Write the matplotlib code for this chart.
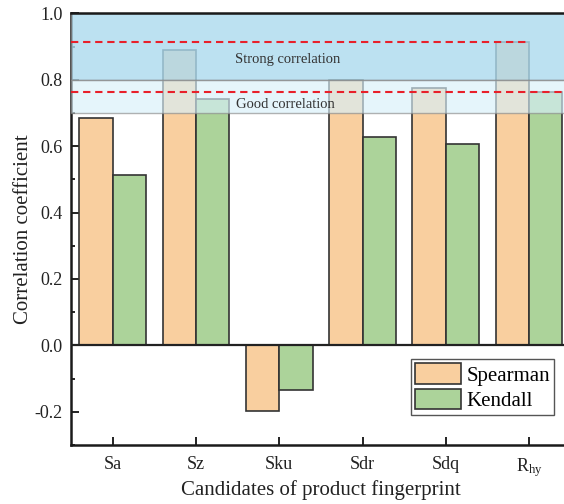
import matplotlib
matplotlib.use("Agg")
import matplotlib.pyplot as plt
import numpy as np
from matplotlib.ticker import MultipleLocator

plt.rcParams['font.family'] = ['Liberation Serif', 'DejaVu Serif']
plt.rcParams['mathtext.fontset'] = 'custom'
plt.rcParams['mathtext.rm'] = 'Liberation Serif'
plt.rcParams['mathtext.it'] = 'Liberation Serif:italic'
plt.rcParams['axes.unicode_minus'] = False

# Données : coefficients de corrélation par candidat
candidats = ['Sa', 'Sz', 'Sku', 'Sdr', 'Sdq', r'R$_{\mathrm{hy}}$']
spearman = [0.685, 0.890, -0.198, 0.800, 0.775, 0.915]
kendall = [0.512, 0.741, -0.133, 0.627, 0.607, 0.764]

x = np.arange(len(candidats))
largeur = 0.4

fig = plt.figure(figsize=(5.64, 5.04), dpi=100)
ax = fig.add_axes([0.1259, 0.1171, 0.886, 0.8565])

# Barres
ax.bar(x - largeur / 2, spearman, largeur, color='#f9cf9f', edgecolor='#333333',
       linewidth=1.2, label='Spearman', zorder=2)
ax.bar(x + largeur / 2, kendall, largeur, color='#acd39a', edgecolor='#333333',
       linewidth=1.2, label='Kendall', zorder=2)

ax.axhline(0, color='#222222', linewidth=1.6, zorder=2.6)

# Zones de corrélation (par-dessus les barres, semi-transparentes)
ax.axhspan(0.8, 1.0, facecolor=(172/255, 218/255, 238/255), alpha=0.8,
           edgecolor='#7a7a7a', linewidth=1.0, zorder=3)
ax.axhspan(0.7, 0.8, facecolor=(215/255, 240/255, 250/255), alpha=0.65,
           edgecolor='#8a8a8a', linewidth=1.0, zorder=3)

ax.text(2.1, 0.86, 'Strong correlation', fontsize=10.5, color='#333333',
        ha='center', va='center', zorder=4)
ax.text(2.07, 0.726, 'Good correlation', fontsize=10.5, color='#333333',
        ha='center', va='center', zorder=4)

# Lignes de référence : maximum de chaque coefficient
ax.plot([-0.5, x[-1]], [max(spearman)] * 2, color='#e8202a', linestyle='--',
        dashes=(3.5, 2.3), linewidth=1.5, zorder=5)
ax.plot([-0.5, x[-1] + 1], [max(kendall)] * 2, color='#e8202a', linestyle='--',
        dashes=(3.5, 2.3), linewidth=1.5, zorder=5)

ax.set_xlim(-0.5, 5.5)
ax.set_ylim(-0.3, 1.0)

ax.set_xticks(x)
ax.set_xticklabels(candidats)
ax.yaxis.set_major_locator(MultipleLocator(0.2))
ax.yaxis.set_minor_locator(MultipleLocator(0.1))
ax.set_yticks(np.arange(-0.2, 1.01, 0.2))
ax.set_yticklabels([f'{v:.1f}' for v in np.arange(-0.2, 1.01, 0.2)])

ax.tick_params(axis='both', which='major', direction='in', length=5.5, width=1.4,
               labelsize=13, colors='#222222')
ax.tick_params(axis='y', which='minor', direction='in', length=3, width=1.2)
ax.tick_params(axis='y', pad=6)
ax.tick_params(axis='x', pad=8)

for cote in ['left', 'bottom', 'top']:
    ax.spines[cote].set_linewidth(1.8)
    ax.spines[cote].set_color('#1a1a1a')
ax.spines['top'].set_zorder(6)
ax.spines['right'].set_visible(False)

ax.set_xlabel('Candidates of product fingerprint', fontsize=15, color='#222222',
              labelpad=1)
ax.set_ylabel('Correlation coefficient', fontsize=15, color='#222222', labelpad=1)

leg = ax.legend(loc='upper right', bbox_to_anchor=(0.9666, 0.199), borderaxespad=0,
                fontsize=15, fancybox=False, framealpha=1, edgecolor='#555555',
                handlelength=2.2, handleheight=1.15, handletextpad=0.25,
                labelspacing=0.15, borderpad=0.2)
leg.get_frame().set_linewidth(1.0)
leg.set_zorder(7)

fig.savefig('out.png', dpi=100)
